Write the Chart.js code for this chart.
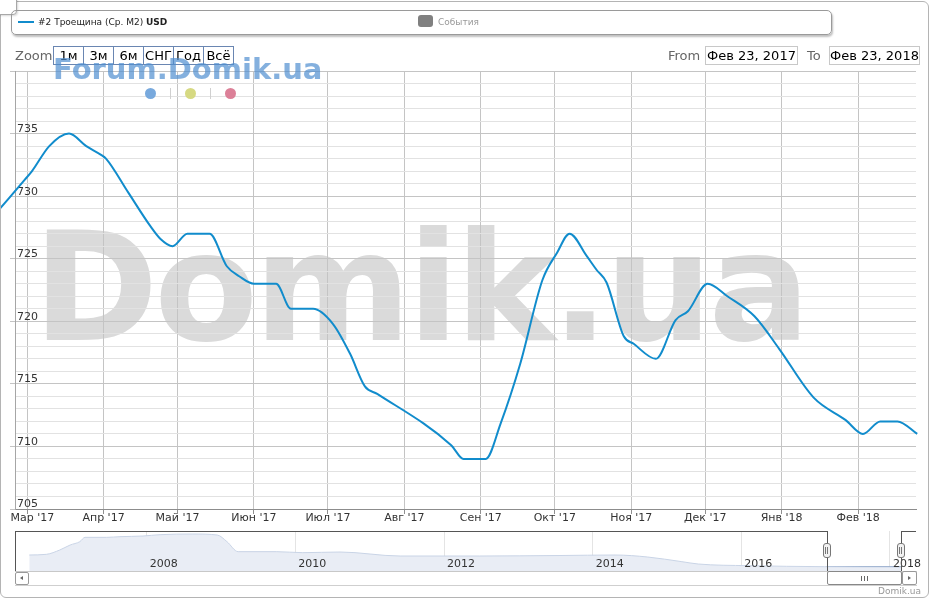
<!DOCTYPE html>
<html>
<head>
<meta charset="utf-8">
<script src="https://cdn.jsdelivr.net/npm/chart.js@4.4.1/dist/chart.umd.min.js"></script>
<style>
  html, body { margin: 0; padding: 0; background: #fff; }
  body { width: 931px; height: 600px; position: relative; overflow: hidden; font-family: "DejaVu Sans", sans-serif; }
  .abs { position: absolute; }
  #frame { left: 0; top: 1px; width: 927px; height: 595px; border: 1px solid #b4b4b4; border-radius: 6px; }
  #corner { left: -1px; top: -1px; width: 16px; height: 14px; border: 1px solid #a8a8a8; border-radius: 0 0 4px 0; background: #fff; box-shadow: 1px 1px 2px rgba(0,0,0,.15); }
  #legend { left: 11px; top: 10px; width: 819px; height: 23px; border: 1px solid #9a9a9a; border-radius: 5px; box-shadow: 1px 2px 2px rgba(0,0,0,.25); }
  .lbl { white-space: nowrap; }
  .btn { top: 46px; width: 31px; height: 19px; box-sizing: border-box; border: 1px solid #6a86b2; text-align: center; font-size: 13px; line-height: 17px; color: #000; }
  .date { top: 46px; height: 19px; box-sizing: border-box; border: 1px solid #c8c8c8; text-align: center; font-size: 13px; line-height: 17px; color: #000; }
  .dot { width: 11px; height: 11px; border-radius: 50%; top: 88px; }
  .sep { width: 1px; height: 11px; top: 88px; background: #d0d0d0; }
  .ln { background: #555; }
  .handle { top: 543px; width: 8px; height: 15px; box-sizing: border-box; border: 1px solid #777; border-radius: 3px; background: #f2f2f2; }
  .handle i { position: absolute; top: 3px; width: 1px; height: 7px; background: #777; }
  .sbtn { top: 572px; height: 13px; box-sizing: border-box; border: 1px solid #999; border-radius: 2px; background: #fff; }
</style>
</head>
<body>
<canvas id="mainChart" class="abs" style="left:0;top:0" width="931" height="531"></canvas>
<canvas id="navChart" class="abs" style="left:15px;top:531px" width="916" height="41"></canvas>

<div id="frame" class="abs"></div>
<div id="corner" class="abs"></div>

<div id="legend" class="abs"></div>
<div class="abs" style="left:18px;top:21px;width:16px;height:2px;background:#118ccc"></div>
<div class="abs lbl" style="left:38px;top:16px;font-size:9px;line-height:12px;color:#222">#2 Троещина (Ср. М2) <b>USD</b></div>
<div class="abs" style="left:418px;top:15px;width:15px;height:12px;border-radius:3px;background:#808080"></div>
<div class="abs lbl" style="left:438px;top:16px;font-size:9px;line-height:12px;color:#999">События</div>

<div class="abs lbl" style="left:15px;top:47px;font-size:13px;line-height:18px;color:#666">Zoom</div>
<div class="abs btn" style="left:53px">1м</div>
<div class="abs btn" style="left:83px">3м</div>
<div class="abs btn" style="left:113px">6м</div>
<div class="abs btn" style="left:143px">СНГ</div>
<div class="abs btn" style="left:173px">Год</div>
<div class="abs btn" style="left:203px">Всё</div>

<div class="abs lbl" style="left:668px;top:47px;font-size:13px;line-height:18px;color:#666">From</div>
<div class="abs date" style="left:705px;width:93px">Фев 23, 2017</div>
<div class="abs lbl" style="left:807px;top:47px;font-size:13px;line-height:18px;color:#666">To</div>
<div class="abs date" style="left:829px;width:91px">Фев 23, 2018</div>

<div class="abs lbl" style="left:53px;top:55px;font-size:29px;line-height:29px;font-weight:bold;color:rgba(80,142,208,0.7)">Forum.Domik.ua</div>
<div class="abs dot" style="left:145px;background:#78a9dd"></div>
<div class="abs sep" style="left:170px"></div>
<div class="abs dot" style="left:185px;background:#d6d982"></div>
<div class="abs sep" style="left:210px"></div>
<div class="abs dot" style="left:225px;background:#dc8098"></div>

<!-- navigator outline -->
<div class="abs ln" style="left:15px;top:531px;width:812px;height:1px"></div>
<div class="abs ln" style="left:15px;top:531px;width:1px;height:40px"></div>
<div class="abs ln" style="left:827px;top:531px;width:1px;height:40px"></div>
<div class="abs ln" style="left:901px;top:531px;width:1px;height:40px"></div>
<div class="abs ln" style="left:901px;top:531px;width:15px;height:1px"></div>
<div class="abs" style="left:15px;top:571px;width:902px;height:1px;background:#c8c8c8"></div>
<div class="abs" style="left:15px;top:585px;width:902px;height:1px;background:#cfcfcf"></div>
<div class="abs handle" style="left:823px"><i style="left:1px"></i><i style="left:3px"></i></div>
<div class="abs handle" style="left:897px"><i style="left:1px"></i><i style="left:3px"></i></div>

<!-- scrollbar -->
<div class="abs sbtn" style="left:15px;width:14px"><div class="abs" style="left:4px;top:3px;width:0;height:0;border-top:2.5px solid transparent;border-bottom:2.5px solid transparent;border-right:3px solid #666"></div></div>
<div class="abs" style="left:827px;top:571px;width:75px;height:14px;box-sizing:border-box;border:1px solid #888;border-radius:2px;background:#fff">
  <div class="abs" style="left:33px;top:4px;width:1px;height:5px;background:#666"></div>
  <div class="abs" style="left:36px;top:4px;width:1px;height:5px;background:#666"></div>
  <div class="abs" style="left:39px;top:4px;width:1px;height:5px;background:#666"></div>
</div>
<div class="abs sbtn" style="left:902px;top:571px;width:15px;height:14px"><div class="abs" style="left:5px;top:3.5px;width:0;height:0;border-top:2.5px solid transparent;border-bottom:2.5px solid transparent;border-left:3px solid #666"></div></div>

<div class="abs lbl" style="right:10px;top:585px;font-size:9px;line-height:12px;color:#999">Domik.ua</div>

<script>
// days counted from Feb 23, 2017
const days = [-5, 5, 8, 15, 23, 30, 36, 38, 47, 56, 60, 65, 71, 80, 87, 92, 98, 107, 113, 122,
  130, 137, 143, 148, 178, 183, 192, 198, 206, 215, 221, 226, 233, 237, 241, 248, 252, 261, 269, 274,
  282, 290, 301, 311, 325, 338, 345, 352, 359, 367];
const prices = [729, 731.3, 732, 734, 735, 734, 733.3, 733, 730.3, 727.6, 726.6, 726, 727, 727, 724.4, 723.6, 723, 723, 721, 721,
  719.8, 717.4, 714.8, 714.2, 710.1, 709, 709, 711.8, 716.6, 723.3, 725.5, 727, 725.2, 724.1, 723.1, 718.8, 718.2, 717, 720.1, 720.8,
  723, 722, 720.4, 717.8, 713.9, 712.1, 711, 712, 712, 711];

const monthDays = [6, 37, 67, 98, 128, 159, 190, 220, 251, 281, 312, 343];
const monthLabels = ["Мар '17", "Апр '17", "Май '17", "Июн '17", "Июл '17", "Авг '17",
  "Сен '17", "Окт '17", "Ноя '17", "Дек '17", "Янв '18", "Фев '18"];

// navigator (whole history)
const navYears = [2006.42, 2006.65, 2006.83, 2006.97, 2007.10, 2007.17, 2007.46, 2007.64, 2007.95, 2008.18,
  2008.62, 2008.95, 2009.08, 2009.23, 2009.75, 2010.10, 2010.60, 2011.41, 2012.48, 2013.56,
  2014.30, 2014.74, 2015.20, 2015.42, 2016.09, 2017.12, 2018.15];
const navValues = [1080, 1100, 1230, 1380, 1480, 1610, 1610, 1630, 1650, 1690,
  1710, 1680, 1480, 1180, 1180, 1150, 1170, 1050, 1050, 1065,
  1080, 1020, 880, 810, 760, 730, 720];
const navSelYears = [2017.146, 2018.146];
const navSelValues = [729, 720];
const navYearTicks = [2008, 2010, 2012, 2014, 2016, 2018];

const FONT = '"DejaVu Sans", sans-serif';

const watermark = {
  id: 'watermark',
  beforeDraw(chart) {
    const c = chart.ctx;
    c.save();
    c.font = 'bold 151px ' + FONT;
    if ('letterSpacing' in c) c.letterSpacing = '-4px';
    c.fillStyle = '#dadada';
    c.textBaseline = 'alphabetic';
    c.fillText('Domik.ua', 33, 340);
    c.restore();
  }
};

new Chart(document.getElementById('mainChart'), {
  type: 'line',
  data: {
    datasets: [{
      data: days.map((d, i) => ({ x: d, y: prices[i] })),
      borderColor: '#118ccc',
      borderWidth: 2,
      pointRadius: 0,
      fill: false,
      cubicInterpolationMode: 'monotone',
      clip: { left: 16, top: 0, right: 2, bottom: 0 }
    }]
  },
  options: {
    responsive: false,
    animation: false,
    devicePixelRatio: 1,
    layout: { padding: { top: 71, right: 15, left: 0, bottom: 0 } },
    plugins: { legend: { display: false }, tooltip: { enabled: false } },
    scales: {
      x: {
        type: 'linear', min: 1.1, max: 366.5,
        afterBuildTicks: s => { s.ticks = monthDays.map(v => ({ value: v })); },
        afterFit: s => { s.height = 22; s.paddingLeft = 0; s.paddingRight = 0; },
        grid: { color: '#c4c4c4', tickLength: 5, tickColor: '#909090' },
        border: { color: '#8c8c8c' },
        ticks: {
          autoSkip: false, maxRotation: 0, padding: -2,
          font: { family: FONT, size: 11 }, color: '#333',
          callback: (v, i) => (i === 0 ? '   ' : '') + monthLabels[i]
        }
      },
      y: {
        type: 'linear', min: 705, max: 740,
        afterBuildTicks: s => { const t = []; for (let v = 705; v <= 740; v++) t.push({ value: v }); s.ticks = t; },
        afterFit: s => { s.width = 15; },
        grid: {
          color: c => c.tick.value % 5 === 0 ? '#c4c4c4' : '#e2e2e2',
          tickColor: c => c.tick.value % 5 === 0 ? '#c4c4c4' : 'rgba(0,0,0,0)',
          tickLength: 5
        },
        border: { display: true, color: '#a6a6a6' },
        ticks: {
          mirror: true, padding: 2, labelOffset: -4.5, autoSkip: false,
          font: { family: FONT, size: 11 }, color: '#333',
          callback: v => (v % 5 === 0 && v < 740) ? String(v) : ''
        }
      }
    }
  },
  plugins: [watermark]
});

new Chart(document.getElementById('navChart'), {
  type: 'line',
  data: {
    datasets: [{
      data: navYears.map((y, i) => ({ x: y, y: navValues[i] })),
      borderColor: '#c9d4e6', borderWidth: 1, backgroundColor: '#e9edf5',
      fill: 'start', pointRadius: 0, cubicInterpolationMode: 'monotone'
    }, {
      data: navSelYears.map((y, i) => ({ x: y, y: navSelValues[i] })),
      borderColor: '#4f73a8', borderWidth: 1.5, backgroundColor: 'rgba(85,120,170,0.6)',
      fill: 'start', pointRadius: 0
    }]
  },
  options: {
    responsive: false,
    animation: false,
    devicePixelRatio: 1,
    layout: { padding: { top: 0, right: 15, left: 0, bottom: 1 } },
    plugins: { legend: { display: false }, tooltip: { enabled: false } },
    scales: {
      x: {
        type: 'linear', min: 2006.228, max: 2018.35,
        afterBuildTicks: s => { s.ticks = navYearTicks.map(v => ({ value: v })); },
        afterFit: s => { s.height = 0; s.paddingLeft = 0; s.paddingRight = 0; },
        grid: { color: '#e4e4e4', drawTicks: false },
        border: { display: false },
        ticks: {
          autoSkip: false, maxRotation: 0, align: 'start', labelOffset: 3, padding: 0, mirror: true, z: 1,
          font: { family: FONT, size: 11 }, color: '#333',
          callback: v => String(v)
        }
      },
      y: { display: false, min: 600, max: 1800 }
    }
  }
});
</script>
</body>
</html>
